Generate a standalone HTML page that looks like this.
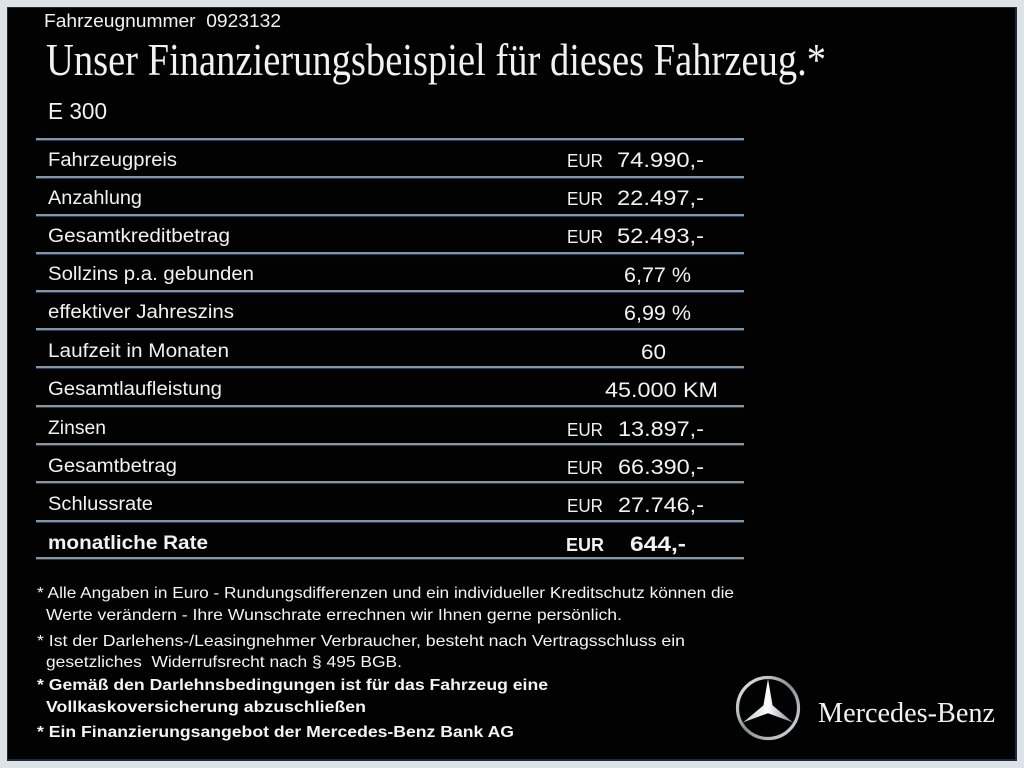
<!DOCTYPE html>
<html><head><meta charset="utf-8"><style>
html,body{margin:0;padding:0;background:#dde2e7;}
svg{display:block;}
</style></head><body>
<svg width="1024" height="768" viewBox="0 0 1024 768" xmlns="http://www.w3.org/2000/svg">
<defs>
<linearGradient id="ring" x1="0" y1="0" x2="1" y2="1">
<stop offset="0" stop-color="#f4f4f4"/><stop offset="0.5" stop-color="#8a8d92"/><stop offset="1" stop-color="#e0e0e0"/>
</linearGradient>
<linearGradient id="star" x1="0" y1="0" x2="1" y2="0">
<stop offset="0" stop-color="#bfc2c6"/><stop offset="0.5" stop-color="#ffffff"/><stop offset="1" stop-color="#7c8086"/>
</linearGradient>
</defs>
<rect x="0" y="0" width="1024" height="768" fill="#dde2e7"/>
<rect x="7" y="7" width="1010" height="754" fill="#1c2c40"/>
<rect x="8" y="8" width="1007" height="751" fill="#020203"/>

<g fill="#f2f2f2" font-family="Liberation Sans, Arial, sans-serif">
<text x="44" y="27" font-size="18" textLength="237" lengthAdjust="spacingAndGlyphs">Fahrzeugnummer&#160; 0923132</text>
<text x="46" y="75" font-family="Liberation Serif, serif" font-size="45" textLength="780" lengthAdjust="spacingAndGlyphs">Unser Finanzierungsbeispiel für dieses Fahrzeug.*</text>
<text x="48" y="119" font-size="23" textLength="59" lengthAdjust="spacingAndGlyphs">E 300</text>
</g>

<g>
<rect x="36" y="138" width="708" height="2" fill="#8794a2"/><rect x="36" y="140" width="708" height="1" fill="#2a3b52"/>
<rect x="36" y="176" width="708" height="2" fill="#8794a2"/><rect x="36" y="178" width="708" height="1" fill="#2a3b52"/>
<rect x="36" y="214" width="708" height="2" fill="#8794a2"/><rect x="36" y="216" width="708" height="1" fill="#2a3b52"/>
<rect x="36" y="252" width="708" height="2" fill="#8794a2"/><rect x="36" y="254" width="708" height="1" fill="#2a3b52"/>
<rect x="36" y="290" width="708" height="2" fill="#8794a2"/><rect x="36" y="292" width="708" height="1" fill="#2a3b52"/>
<rect x="36" y="328" width="708" height="2" fill="#8794a2"/><rect x="36" y="330" width="708" height="1" fill="#2a3b52"/>
<rect x="36" y="366" width="708" height="2" fill="#8794a2"/><rect x="36" y="368" width="708" height="1" fill="#2a3b52"/>
<rect x="36" y="405" width="708" height="2" fill="#8794a2"/><rect x="36" y="407" width="708" height="1" fill="#2a3b52"/>
<rect x="36" y="443" width="708" height="2" fill="#8794a2"/><rect x="36" y="445" width="708" height="1" fill="#2a3b52"/>
<rect x="36" y="481" width="708" height="2" fill="#8794a2"/><rect x="36" y="483" width="708" height="1" fill="#2a3b52"/>
<rect x="36" y="520" width="708" height="2" fill="#8794a2"/><rect x="36" y="522" width="708" height="1" fill="#2a3b52"/>
<rect x="36" y="557" width="708" height="2" fill="#8794a2"/><rect x="36" y="559" width="708" height="1" fill="#2a3b52"/>
</g>

<g fill="#f2f2f2" font-family="Liberation Sans, Arial, sans-serif" font-size="19">
<text x="48" y="166" textLength="129" lengthAdjust="spacingAndGlyphs">Fahrzeugpreis</text>
<text x="48" y="204" textLength="94" lengthAdjust="spacingAndGlyphs">Anzahlung</text>
<text x="48" y="242" textLength="182" lengthAdjust="spacingAndGlyphs">Gesamtkreditbetrag</text>
<text x="48" y="280" textLength="206" lengthAdjust="spacingAndGlyphs">Sollzins p.a. gebunden</text>
<text x="48" y="318" textLength="186" lengthAdjust="spacingAndGlyphs">effektiver Jahreszins</text>
<text x="48" y="357" textLength="181" lengthAdjust="spacingAndGlyphs">Laufzeit in Monaten</text>
<text x="48" y="395" textLength="174" lengthAdjust="spacingAndGlyphs">Gesamtlaufleistung</text>
<text x="48" y="434" textLength="58" lengthAdjust="spacingAndGlyphs">Zinsen</text>
<text x="48" y="472" textLength="129" lengthAdjust="spacingAndGlyphs">Gesamtbetrag</text>
<text x="48" y="510" textLength="105" lengthAdjust="spacingAndGlyphs">Schlussrate</text>
<text x="48" y="549" font-weight="bold" textLength="160" lengthAdjust="spacingAndGlyphs">monatliche Rate</text>
</g>

<g fill="#f2f2f2" font-family="Liberation Sans, Arial, sans-serif">
<g font-size="18">
<text x="567" y="167" textLength="36" lengthAdjust="spacingAndGlyphs">EUR</text>
<text x="567" y="205" textLength="36" lengthAdjust="spacingAndGlyphs">EUR</text>
<text x="567" y="243" textLength="36" lengthAdjust="spacingAndGlyphs">EUR</text>
<text x="567" y="436" textLength="36" lengthAdjust="spacingAndGlyphs">EUR</text>
<text x="567" y="474" textLength="36" lengthAdjust="spacingAndGlyphs">EUR</text>
<text x="567" y="512" textLength="36" lengthAdjust="spacingAndGlyphs">EUR</text>
<text x="566" y="551" font-weight="bold" textLength="38" lengthAdjust="spacingAndGlyphs">EUR</text>
</g>
<g font-size="21">
<text x="617" y="167" textLength="87" lengthAdjust="spacingAndGlyphs">74.990,-</text>
<text x="617" y="205" textLength="87" lengthAdjust="spacingAndGlyphs">22.497,-</text>
<text x="617" y="243" textLength="87" lengthAdjust="spacingAndGlyphs">52.493,-</text>
<text x="624" y="282" textLength="67" lengthAdjust="spacingAndGlyphs">6,77 %</text>
<text x="624" y="320" textLength="67" lengthAdjust="spacingAndGlyphs">6,99 %</text>
<text x="641" y="359" textLength="25" lengthAdjust="spacingAndGlyphs">60</text>
<text x="605" y="397" textLength="113" lengthAdjust="spacingAndGlyphs">45.000 KM</text>
<text x="618" y="436" textLength="86" lengthAdjust="spacingAndGlyphs">13.897,-</text>
<text x="618" y="474" textLength="86" lengthAdjust="spacingAndGlyphs">66.390,-</text>
<text x="618" y="512" textLength="86" lengthAdjust="spacingAndGlyphs">27.746,-</text>
<text x="630" y="551" font-weight="bold" textLength="56" lengthAdjust="spacingAndGlyphs">644,-</text>
</g>
</g>

<g fill="#f4f4f4" font-family="Liberation Sans, Arial, sans-serif" font-size="16">
<text x="37" y="598" textLength="697" lengthAdjust="spacingAndGlyphs">* Alle Angaben in Euro - Rundungsdifferenzen und ein individueller Kreditschutz können die</text>
<text x="46" y="620" textLength="576" lengthAdjust="spacingAndGlyphs">Werte verändern - Ihre Wunschrate errechnen wir Ihnen gerne persönlich.</text>
<text x="37" y="646" textLength="648" lengthAdjust="spacingAndGlyphs">* Ist der Darlehens-/Leasingnehmer Verbraucher, besteht nach Vertragsschluss ein</text>
<text x="46" y="667" textLength="356" lengthAdjust="spacingAndGlyphs">gesetzliches&#160; Widerrufsrecht nach § 495 BGB.</text>
<g font-weight="bold">
<text x="37" y="690" textLength="511" lengthAdjust="spacingAndGlyphs">* Gemäß den Darlehnsbedingungen ist für das Fahrzeug eine</text>
<text x="46" y="712" textLength="320" lengthAdjust="spacingAndGlyphs">Vollkaskoversicherung abzuschließen</text>
<text x="37" y="737" textLength="477" lengthAdjust="spacingAndGlyphs">* Ein Finanzierungsangebot der Mercedes-Benz Bank AG</text>
</g>
</g>

<g>
<circle cx="768" cy="708" r="30.5" fill="none" stroke="url(#ring)" stroke-width="3.2"/>
<polygon points="768,679 772.6,705.4 793.1,722.5 768,713.2 742.9,722.5 763.4,705.4" fill="url(#star)"/>
</g>
<text x="818" y="722" fill="#f2f2f2" font-family="Liberation Serif, serif" font-size="28" textLength="177" lengthAdjust="spacingAndGlyphs">Mercedes-Benz</text>
</svg>
</body></html>
